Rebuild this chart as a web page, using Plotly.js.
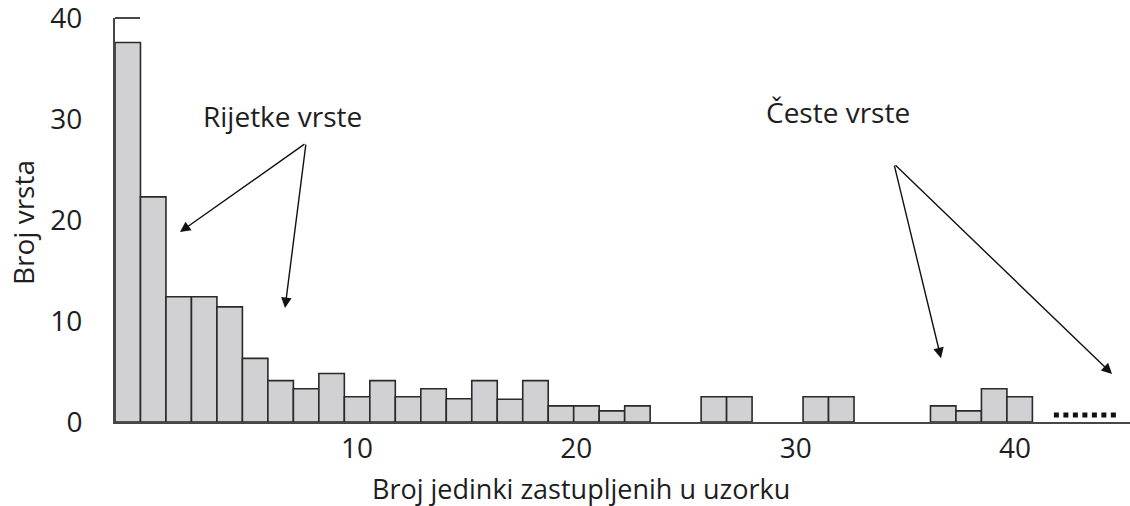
<!DOCTYPE html>
<html>
<head>
<meta charset="utf-8">
<script src="https://cdn.plot.ly/plotly-3.0.1.min.js"></script>
<style>
  html, body { margin: 0; padding: 0; background: #ffffff; }
  #chart { width: 1130px; height: 506px; }
</style>
</head>
<body>
<div id="chart"></div>
<script>
// ---- data ----
const binSlots = [1, 2, 3, 4, 5, 6, 7, 8, 9, 10, 11, 12, 13, 14, 15, 16, 17, 18, 19, 20, 21, 24, 25, 28, 29, 33, 34, 35, 36];
const speciesCounts = [37.6, 22.3, 12.4, 12.4, 11.4, 6.3, 4.1, 3.3, 4.8, 2.5, 4.1, 2.5, 3.3, 2.3, 4.1, 2.25, 4.1, 1.6, 1.6, 1.1, 1.6, 2.5, 2.5, 2.5, 2.5, 1.6, 1.1, 3.3, 2.5];
const xTickValues = [10, 20, 30, 40];
const yTickValues = [0, 10, 20, 30, 40];
const labelRare = 'Rijetke vrste';
const labelCommon = 'Česte vrste';
const xTitle = 'Broj jedinki zastupljenih u uzorku';
const yTitle = 'Broj vrsta';

const FONT = 'Open Sans, sans-serif';
const FS = 28;
const TXT = '#1e1e1e';
const AX = '#474747';

const bars = {
  type: 'bar',
  x: binSlots,
  y: speciesCounts,
  width: 1,
  marker: { color: '#d1d0d3', line: { color: '#2a2a2a', width: 1.6 } },
  hoverinfo: 'x+y',
  showlegend: false
};

const labelAxisTrace = {
  type: 'scatter',
  x: xTickValues,
  y: xTickValues.map(() => 0),
  xaxis: 'x2',
  mode: 'markers',
  marker: { opacity: 0 },
  hoverinfo: 'skip',
  showlegend: false
};

const arrowCommon = {
  xref: 'paper', yref: 'paper', axref: 'pixel', ayref: 'pixel',
  text: '', showarrow: true, arrowhead: 2, arrowsize: 1.5, arrowwidth: 1.4, arrowcolor: '#111'
};

const layout = {
  width: 1130, height: 506,
  margin: { l: 115, r: 0, t: 18, b: 84 },
  paper_bgcolor: '#ffffff', plot_bgcolor: '#ffffff',
  font: { family: FONT, size: FS, color: TXT },
  bargap: 0,
  showlegend: false,
  xaxis: {
    range: [0.5, 40.33],
    showgrid: false, zeroline: false,
    showline: true, linecolor: AX, linewidth: 2,
    showticklabels: false, ticks: ''
  },
  xaxis2: {
    overlaying: 'x', anchor: 'y', side: 'bottom',
    range: [-1.035, 45.24],
    tickmode: 'array', tickvals: xTickValues, ticktext: xTickValues.map(String),
    showgrid: false, zeroline: false, showline: false, ticks: '',
    ticklabelstandoff: 7, ticklabeloverflow: 'allow',
    tickfont: { family: FONT, size: FS, color: TXT }
  },
  yaxis: {
    range: [0, 40.02],
    tickmode: 'array', tickvals: yTickValues,
    showgrid: false, zeroline: false,
    showline: true, linecolor: AX, linewidth: 2,
    ticks: '', ticklabelstandoff: 25, ticklabeloverflow: 'allow',
    tickfont: { family: FONT, size: FS, color: TXT }
  },
  shapes: [
    { type: 'line', xref: 'paper', yref: 'paper', x0: 0, x1: 0.0246, y0: 1, y1: 1,
      line: { color: AX, width: 2 } },
    { type: 'line', xref: 'paper', yref: 'paper', x0: 0.925, x1: 0.987, y0: 0.0173, y1: 0.0173,
      line: { color: '#111', width: 5, dash: '5px,4.5px' } }
  ],
  annotations: [
    { xref: 'paper', yref: 'paper', x: 0.1655, y: 0.757, text: labelRare, showarrow: false,
      xanchor: 'center', yanchor: 'middle', font: { family: FONT, size: FS, color: TXT } },
    { xref: 'paper', yref: 'paper', x: 0.7123, y: 0.767, text: labelCommon, showarrow: false,
      xanchor: 'center', yanchor: 'middle', font: { family: FONT, size: FS, color: TXT } },
    Object.assign({}, arrowCommon, { x: 0.064, y: 0.470, ax: 126, ay: -89 }),
    Object.assign({}, arrowCommon, { x: 0.1675, y: 0.282, ax: 21, ay: -165 }),
    Object.assign({}, arrowCommon, { x: 0.8138, y: 0.158, ax: -47, ay: -194 }),
    Object.assign({}, arrowCommon, { x: 0.9823, y: 0.119, ax: -218, ay: -210 }),
    { xref: 'paper', yref: 'paper', x: 0.459, y: -0.165, text: xTitle, showarrow: false,
      xanchor: 'center', yanchor: 'middle', font: { family: FONT, size: 27, color: TXT } },
    { xref: 'paper', yref: 'paper', x: -0.0906, y: 0.4926, text: yTitle, showarrow: false, textangle: -90,
      xanchor: 'center', yanchor: 'middle', font: { family: FONT, size: FS, color: TXT } }
  ]
};

Plotly.newPlot('chart', [bars, labelAxisTrace], layout, { staticPlot: true, displayModeBar: false });
</script>
</body>
</html>
